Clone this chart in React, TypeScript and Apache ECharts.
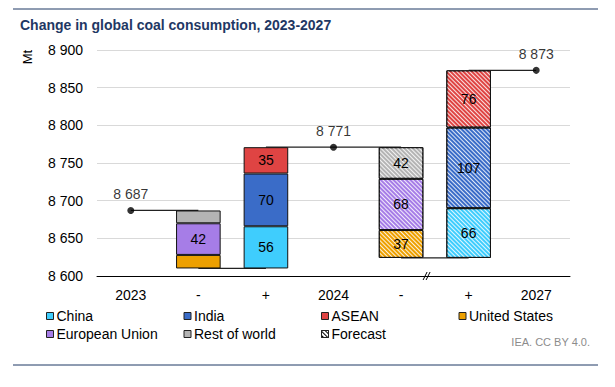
import React, { useEffect, useRef } from 'react';
import * as echarts from 'echarts';

// ---- data ----
const categories = ['2023', '-', '+', '2024', '-', '+', '2027'];
const totals = [8687, 8771, 8873]; // 2023, 2024, 2027
// changes per period: [2023→2024, 2024→2027 (forecast)]
const china = [56, 66];
const india = [70, 107];
const asean = [35, 76];
const unitedStates = [18, 37]; // decreases
const europeanUnion = [42, 68]; // decreases
const restOfWorld = [17, 42]; // decreases
const forecastPeriod = [false, true];
const yMin = 8600;
const yMax = 8900;
const yInterval = 50;

const FONT = '"Liberation Sans", Arial, sans-serif';
const COLORS: Record<string, string> = {
  China: '#3fcdfd',
  India: '#3a6cc8',
  ASEAN: '#df4443',
  'United States': '#eda000',
  'European Union': '#a67de7',
  'Rest of world': '#b4b4b4',
};

const fmt = (v: number) => String(Math.round(v)).replace(/\B(?=(\d{3})+(?!\d))/g, ' ');

const whiteDecal = {
  symbol: 'rect',
  symbolSize: 1,
  dashArrayX: [1, 0],
  dashArrayY: [0.9, 1.7],
  rotation: Math.PI / 4,
  color: 'rgba(255,255,255,0.85)',
};

export default function App() {
  const ref = useRef<HTMLDivElement>(null);
  useEffect(() => {
    document.body.style.margin = '0';
    if (!ref.current) return;
    const chart = echarts.init(ref.current, undefined, { renderer: 'svg' });
    const n = categories.length;
    const empty = () => Array(n).fill(null) as any[];
    const base = empty();
    const regionData: Record<string, any[]> = {
      China: empty(),
      India: empty(),
      ASEAN: empty(),
      'United States': empty(),
      'European Union': empty(),
      'Rest of world': empty(),
    };
    const bases: number[] = [];
    const item = (v: number, p: number) =>
      forecastPeriod[p] ? { value: v, itemStyle: { decal: whiteDecal } } : v;
    for (let p = 0; p < 2; p++) {
      const dIdx = 1 + 3 * p;
      const iIdx = 2 + 3 * p;
      const dec = unitedStates[p] + europeanUnion[p] + restOfWorld[p];
      const b = totals[p] - dec;
      bases.push(b);
      base[dIdx] = b;
      base[iIdx] = b;
      regionData['United States'][dIdx] = item(unitedStates[p], p);
      regionData['European Union'][dIdx] = item(europeanUnion[p], p);
      regionData['Rest of world'][dIdx] = item(restOfWorld[p], p);
      regionData.China[iIdx] = item(china[p], p);
      regionData.India[iIdx] = item(india[p], p);
      regionData.ASEAN[iIdx] = item(asean[p], p);
    }

    const barOrder = ['China', 'India', 'ASEAN', 'United States', 'European Union', 'Rest of world'];
    const barSeries: any[] = [
      {
        name: 'base',
        type: 'bar',
        stack: 'a',
        data: base,
        barWidth: '66%',
        itemStyle: { color: 'transparent' },
        silent: true,
        z: 2,
      },
      ...barOrder.map((name) => ({
        name,
        type: 'bar',
        stack: 'a',
        data: regionData[name],
        barWidth: '66%',
        z: 2,
        itemStyle: { color: COLORS[name], borderColor: '#111', borderWidth: 1 },
        label: {
          show: true,
          position: 'inside',
          fontFamily: FONT,
          fontSize: 14,
          color: '#000',
          formatter: (pr: any) => (pr.value >= 30 ? String(pr.value) : ''),
        },
      })),
      {
        name: 'Forecast',
        type: 'bar',
        stack: 'a',
        data: empty(),
        itemStyle: {
          color: '#fff',
          borderColor: '#111',
          borderWidth: 1,
          decal: { ...whiteDecal, dashArrayY: [0.8, 1.2], color: '#000' },
        },
      },
    ];

    // connector line segments
    const segments: number[][][] = [];
    for (let t = 0; t < totals.length; t++) {
      const tIdx = 3 * t;
      const from = t > 0 ? tIdx - 1 : tIdx;
      const to = t < totals.length - 1 ? tIdx + 1 : tIdx;
      segments.push([
        [from, totals[t]],
        [tIdx, totals[t]],
        [to, totals[t]],
      ]);
    }
    bases.forEach((b, p) => segments.push([[1 + 3 * p, b], [2 + 3 * p, b]]));
    const lineSeries = segments.map((seg) => ({
      type: 'line',
      data: seg,
      showSymbol: false,
      symbol: 'none',
      silent: true,
      z: 1,
      lineStyle: { color: '#222', width: 1.2 },
    }));

    const dotSeries = {
      type: 'scatter',
      data: totals.map((v, t) => [3 * t, v]),
      symbolSize: 7,
      itemStyle: { color: '#000' },
      z: 3,
      silent: true,
      label: {
        show: true,
        position: 'top',
        distance: 6,
        fontFamily: FONT,
        fontSize: 14,
        color: '#000',
        formatter: (pr: any) => fmt(pr.value[1]),
      },
    };

    chart.setOption({
      animation: false,
      textStyle: { fontFamily: FONT },
      grid: { left: 97, right: 45, top: 50, bottom: 111, containLabel: false },
      xAxis: {
        type: 'category',
        data: categories.map((c, i) => i),
        axisTick: { show: false },
        axisLine: { lineStyle: { color: '#000', width: 1 } },
        axisLabel: {
          fontFamily: FONT,
          fontSize: 14,
          color: '#000',
          margin: 12,
          formatter: (v: any) => categories[Number(v)],
        },
      },
      yAxis: {
        type: 'value',
        min: yMin,
        max: yMax,
        interval: yInterval,
        axisLine: { show: false },
        axisTick: { show: false },
        splitLine: { lineStyle: { color: '#d9d9d9', width: 1 } },
        axisLabel: { fontFamily: FONT, fontSize: 14, color: '#000', margin: 14, formatter: (v: number) => fmt(v) },
      },
      legend: {
        data: ['China', 'India', 'ASEAN', 'United States', 'European Union', 'Rest of world', 'Forecast'],
        left: 46,
        top: 307,
        padding: 0,
        width: 565,
        orient: 'horizontal',
        itemWidth: 7,
        itemHeight: 7,
        itemGap: 0,
        icon: 'rect',
        selectedMode: false,
        itemStyle: { borderColor: '#222', borderWidth: 1 },
        textStyle: { fontFamily: FONT, fontSize: 14, color: '#000', width: 127, lineHeight: 18, padding: [0, 0, 0, -2] },
      },
      series: [...barSeries, ...lineSeries, dotSeries],
    });

    const p4 = chart.convertToPixel({ gridIndex: 0 }, [4, yMin]) as number[];
    const p5 = chart.convertToPixel({ gridIndex: 0 }, [5, yMin]) as number[];
    const bx = p4[0] + 0.385 * (p5[0] - p4[0]);
    const by = p4[1];

    chart.setOption({
      title: {
        text: 'Change in global coal consumption, 2023-2027',
        left: 15,
        top: 13,
        textStyle: { fontFamily: FONT, fontSize: 14, fontWeight: 'bold', color: '#1f3864' },
      },
      graphic: [
        { type: 'line', shape: { x1: 13, y1: 9, x2: 598, y2: 9 }, style: { stroke: '#1f3864', lineWidth: 1 } },
        { type: 'line', shape: { x1: 13, y1: 365, x2: 598, y2: 365 }, style: { stroke: '#1f3864', lineWidth: 1 } },
        {
          type: 'text',
          x: 27,
          y: 57,
          rotation: Math.PI / 2,
          style: { text: 'Mt', fontFamily: FONT, fontSize: 13, fill: '#000', align: 'center', verticalAlign: 'middle' },
        },
        {
          type: 'text',
          x: 590,
          y: 342,
          style: { text: 'IEA. CC BY 4.0.', fontFamily: FONT, fontSize: 11, fill: '#8c8c8c', align: 'right', verticalAlign: 'middle' },
        },
        { type: 'line', shape: { x1: bx - 4, y1: by + 4, x2: bx, y2: by - 4 }, style: { stroke: '#000', lineWidth: 1 }, z: 10 },
        { type: 'line', shape: { x1: bx - 1, y1: by + 4, x2: bx + 3, y2: by - 4 }, style: { stroke: '#000', lineWidth: 1 }, z: 10 },
      ],
    });

    return () => chart.dispose();
  }, []);
  return <div ref={ref} style={{ width: 615, height: 387 }} />;
}
